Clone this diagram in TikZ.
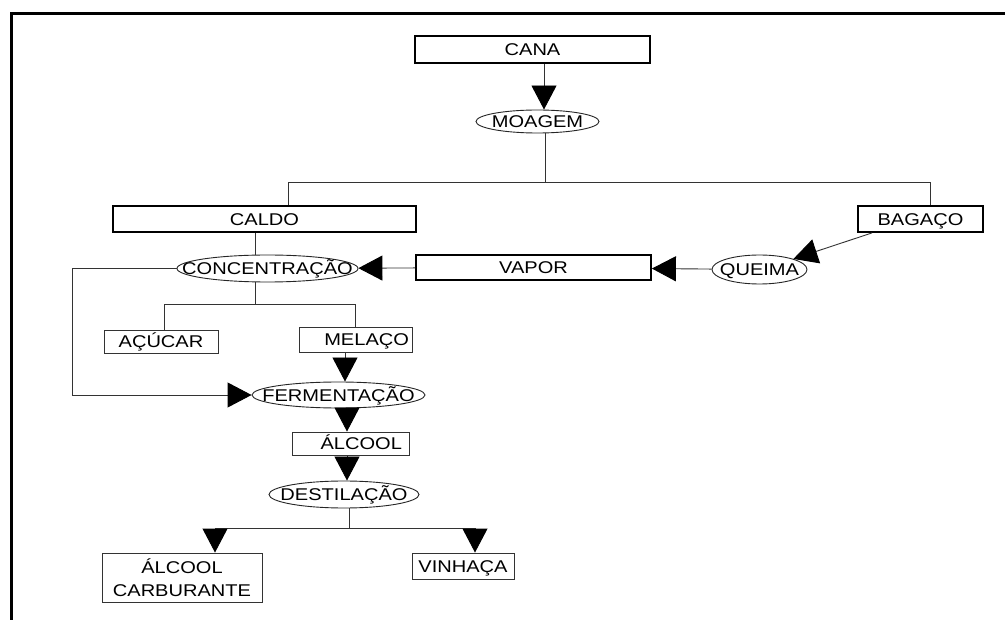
\documentclass[tikz,border=0pt]{standalone}
\usepackage{fontspec}
\setmainfont{Liberation Sans}[FakeStretch=1.18]
\usetikzlibrary{shapes.geometric,arrows.meta}
\begin{document}
\begin{tikzpicture}[x=1pt,y=-1pt,
  font=\fontsize{17}{19}\selectfont,
  ln/.style={draw=black!80, line width=0.9pt},
  arr/.style={ln, -{Triangle[length=24pt,width=25pt,color=black,fill=black]}},
  tbox/.style={draw, rectangle, line width=1.8pt, inner sep=0pt, text height=12.2pt, text depth=0pt},
  fbox/.style={draw=black!80, rectangle, line width=0.9pt, inner sep=0pt, text height=12.2pt, text depth=0pt},
  ell/.style={draw=black!85, ellipse, line width=0.9pt, inner sep=0pt, text height=12.2pt, text depth=0pt},
]
\useasboundingbox (0,0) rectangle (1005,620);
\fill[white] (0,0) rectangle (1005,620);
\draw[line width=3pt] (11,620) -- (11,14) -- (1005,14);

% boxes
\node[tbox, minimum width=235pt, minimum height=27pt] (cana) at (532.5,49.5) {CANA};
\node[tbox, minimum width=303pt, minimum height=26pt] (caldo) at (264.5,219) {CALDO};
\node[tbox, minimum width=125pt, minimum height=26pt] (bag) at (920.5,219) {BAGAÇO};
\node[tbox, minimum width=235pt, minimum height=25pt] (vap) at (533.5,267.5) {VAPOR};
\node[fbox, minimum width=114pt, minimum height=23pt] (acu) at (161,341.5) {AÇÚCAR};
\node[fbox, minimum width=113pt, minimum height=25pt, inner xsep=3pt, text width=107pt, align=right] (mel) at (355.5,339.5) {MELAÇO};
\node[fbox, minimum width=117pt, minimum height=23pt, inner xsep=7pt, text width=103pt, align=right] (alc) at (350.5,443.5) {ÁLCOOL};
\node[draw=black!80, rectangle, line width=0.9pt, inner sep=0pt, minimum width=160pt, minimum height=49pt, align=center, font=\fontsize{17}{23}\selectfont] (carb) at (182,577.5) {ÁLCOOL\\CARBURANTE};
\node[fbox, minimum width=102pt, minimum height=26pt] (vin) at (463,566) {VINHAÇA};

% ellipses
\node[ell, minimum width=123pt, minimum height=23pt] (moa) at (537.5,121.5) {\makebox[0pt]{MOAGEM}};
\node[ell, minimum width=181pt, minimum height=27pt] (conc) at (267.5,268.5) {\makebox[0pt]{CONCENTRAÇÃO}};
\node[ell, minimum width=95pt, minimum height=29pt] (que) at (759.5,269.5) {\makebox[0pt]{QUEIMA}};
\node[ell, minimum width=173pt, minimum height=26pt] (ferm) at (338.5,395) {\makebox[0pt]{FERMENTAÇÃO}};
\node[ell, minimum width=150pt, minimum height=27pt] (dest) at (344,494.5) {\makebox[0pt]{DESTILAÇÃO}};

% helper coordinates
\coordinate (ax) at (544,0);
\coordinate (j1) at (545,182);
\coordinate (jl) at (288,182);
\coordinate (jr) at (930,182);
\coordinate (jc) at (255,304);
\coordinate (ja) at (164,304);
\coordinate (jm) at (355,304);
\coordinate (lp) at (72,395);
\coordinate (xm) at (345,0);
\coordinate (xa) at (347,0);
\coordinate (jd) at (349,528);
\coordinate (dl) at (215,528);
\coordinate (dr) at (475,528);

% connectors
\draw[arr] (ax |- cana.south) -- (ax |- moa.north);
\draw[ln] (j1 |- moa.south) -- (j1);
\draw[ln] (jl |- caldo.north) -- (jl) -- (jr) -- (jr |- bag.north);
\draw[ln] (jc |- caldo.south) -- (jc |- conc.north);
\draw[ln] (jc |- conc.south) -- (jc);
\draw[ln] (ja |- acu.north) -- (ja) -- (jm) -- (jm |- mel.north);
\draw[arr] (vap) -- (conc);
\draw[arr] (que) -- (vap);
\draw[arr] ([xshift=15pt]bag.south west) -- (que.north east);
\draw[arr] (conc.west) -| (lp) -- (ferm.west);
\draw[arr] (xm |- mel.south) -- (xm |- ferm.north);
\draw[arr] (xa |- ferm.south) -- (xa |- alc.north);
\draw[arr] (xa |- alc.south) -- (xa |- dest.north);
\draw[ln] (jd |- dest.south) -- (jd);
\draw[ln] (dl) -- (dr);
\draw[arr] (dl) -- (dl |- carb.north);
\draw[arr] (dr) -- (dr |- vin.north);
\end{tikzpicture}
\end{document}
